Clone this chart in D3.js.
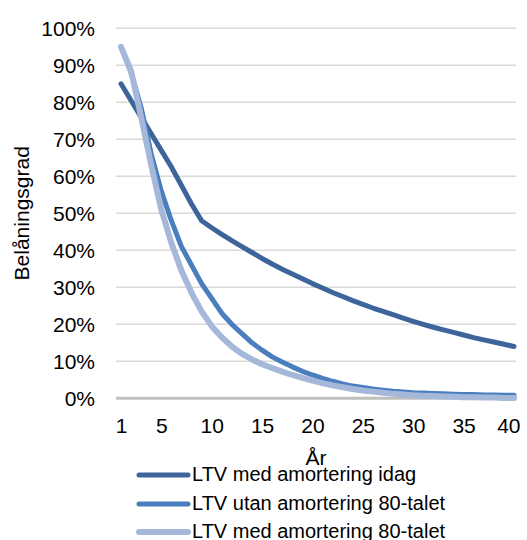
<!DOCTYPE html>
<html>
<head>
<meta charset="utf-8">
<script src="https://cdn.jsdelivr.net/npm/d3@7"></script>
<style>
  html, body { margin: 0; padding: 0; background: #fff; }
  svg { display: block; font-family: "Liberation Sans", Arial, Helvetica, sans-serif; }
</style>
</head>
<body>
<svg id="chart" width="527" height="540"></svg>
<script>
// ---- Data ----
const years = d3.range(1, 41);
const xTickLabels = [1, 5, 10, 15, 20, 25, 30, 35, 40];
const yTickValues = [0, 0.1, 0.2, 0.3, 0.4, 0.5, 0.6, 0.7, 0.8, 0.9, 1.0];
const seriesNames = ["LTV med amortering idag", "LTV utan amortering 80-talet", "LTV med amortering 80-talet"];

// values in percent, years 1..40
const ltvIdag = [85, 80.5, 76, 71.5, 67, 62.5, 57.5, 52.5, 48, 46.1,
  44.3, 42.6, 41.0, 39.4, 37.8, 36.3, 34.9, 33.6, 32.3, 31.0,
  29.8, 28.6, 27.5, 26.4, 25.4, 24.4, 23.5, 22.6, 21.7, 20.8,
  20.0, 19.2, 18.5, 17.8, 17.1, 16.4, 15.8, 15.2, 14.6, 14.0];
const ltvUtan80 = [95, 88, 78.5, 66, 56, 48, 41, 36, 31, 27,
  23, 20, 17.5, 15, 13, 11.2, 9.8, 8.5, 7.3, 6.3,
  5.4, 4.6, 3.9, 3.3, 2.9, 2.5, 2.2, 1.9, 1.7, 1.5,
  1.4, 1.3, 1.2, 1.1, 1.0, 1.0, 0.9, 0.9, 0.8, 0.8];
const ltvMed80 = [95, 88.5, 76, 63, 51, 42, 34.5, 28.5, 23.5, 19.5,
  16.5, 14, 12, 10.5, 9.2, 8.2, 7.2, 6.3, 5.5, 4.8,
  4.1, 3.5, 3.0, 2.5, 2.1, 1.8, 1.5, 1.2, 1.0, 0.8,
  0.7, 0.6, 0.5, 0.4, 0.3, 0.3, 0.2, 0.2, 0.1, 0.1];

const seriesValues = [ltvIdag, ltvUtan80, ltvMed80];
const seriesColors = ["#3d659b", "#4a7ebf", "#a6b8da"];
const seriesWidths = [5, 5, 6];

// ---- Layout ----
const svg = d3.select("#chart");
const plotLeft = 116, plotRight = 516, plotTop = 28.3, plotBottom = 398.3;

const x = d3.scaleLinear().domain([1, 40]).range([121, 514]);
const y = d3.scaleLinear().domain([0, 1]).range([plotBottom, plotTop]);

// gridlines
svg.append("g")
  .selectAll("line")
  .data(yTickValues.filter(v => v > 0))
  .join("line")
  .attr("x1", plotLeft).attr("x2", plotRight)
  .attr("y1", d => y(d)).attr("y2", d => y(d))
  .attr("stroke", "#d9d9d9").attr("stroke-width", 1.6);

// y axis labels
const yAxis = d3.axisLeft(y).tickValues(yTickValues).tickFormat(d3.format(".0%")).tickSize(0).tickPadding(0);
const yg = svg.append("g").attr("transform", `translate(95,0)`).call(yAxis);
yg.select(".domain").remove();
yg.selectAll("text").attr("font-size", 21).attr("fill", "#000")
  .attr("font-family", "'Liberation Sans', Arial, sans-serif");

// zero axis line
svg.append("line")
  .attr("x1", plotLeft).attr("x2", plotRight)
  .attr("y1", y(0)).attr("y2", y(0))
  .attr("stroke", "#bfbfbf").attr("stroke-width", 3);

// x axis labels
const xAxis = d3.axisBottom(x).tickValues(xTickLabels).tickFormat(d3.format("d")).tickSize(0).tickPadding(0);
const xg = svg.append("g").attr("transform", `translate(0,418)`).call(xAxis);
xg.select(".domain").remove();
xg.selectAll("text").attr("font-size", 21).attr("fill", "#000").attr("dy", "0.71em")
  .attr("font-family", "'Liberation Sans', Arial, sans-serif");
// keep last label inside the chart area
xg.selectAll(".tick").each(function(d) {
  const t = d3.select(this).select("text");
  const bb = t.node().getBBox();
  const absRight = x(d) + bb.x + bb.width;
  if (absRight > 520) t.attr("x", 520 - absRight);
});

// x axis title
svg.append("text")
  .attr("x", (plotLeft + plotRight) / 2).attr("y", 465)
  .attr("text-anchor", "middle").attr("font-size", 21).attr("fill", "#000")
  .text("År");

// y axis title
svg.append("text")
  .attr("transform", `translate(29,${(plotTop + plotBottom) / 2}) rotate(-90)`)
  .attr("text-anchor", "middle").attr("font-size", 21).attr("fill", "#000")
  .text("Belåningsgrad");

// lines
const line = d3.line().x((d, i) => x(years[i])).y(d => y(d / 100));
svg.append("g")
  .selectAll("path")
  .data(seriesValues)
  .join("path")
  .attr("d", d => line(d))
  .attr("fill", "none")
  .attr("stroke", (d, i) => seriesColors[i])
  .attr("stroke-width", (d, i) => seriesWidths[i])
  .attr("stroke-linejoin", "round")
  .attr("stroke-linecap", "round");

// legend
const legendY = [475, 504, 532];
const lg = svg.append("g");
seriesNames.forEach((name, i) => {
  lg.append("line")
    .attr("x1", 139).attr("x2", 188)
    .attr("y1", legendY[i]).attr("y2", legendY[i])
    .attr("stroke", seriesColors[i]).attr("stroke-width", seriesWidths[i])
    .attr("stroke-linecap", "round");
  lg.append("text")
    .attr("x", 192).attr("y", legendY[i] + 5.5)
    .attr("font-size", 20).attr("fill", "#000")
    .text(name);
});
</script>
</body>
</html>
